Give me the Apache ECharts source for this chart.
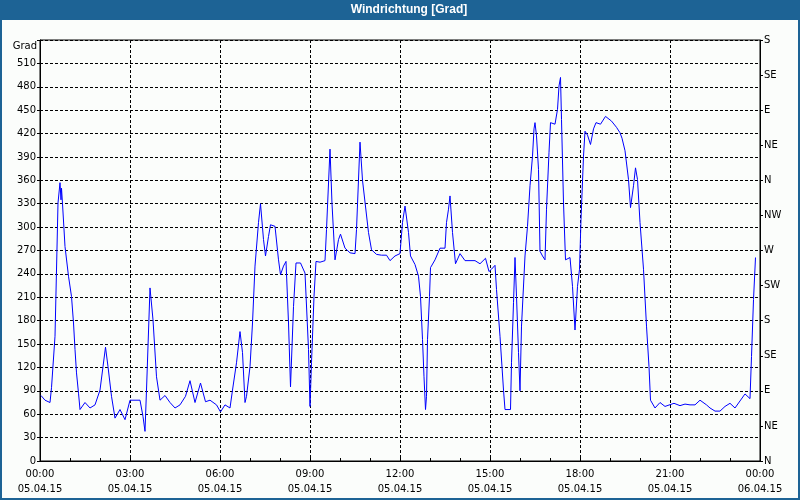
<!DOCTYPE html>
<html>
<head>
<meta charset="utf-8">
<script src="https://cdn.jsdelivr.net/npm/echarts@6/dist/echarts.min.js"></script>
<style>
html,body{margin:0;padding:0;background:#fbfdfb;}
#chart{width:800px;height:500px;}
</style>
</head>
<body>
<div id="chart"></div>
<script>
const chartTitle = 'Windrichtung [Grad]';
const yAxisName = 'Grad';
const timeLabels = ['00:00','03:00','06:00','09:00','12:00','15:00','18:00','21:00','00:00'];
const dateLabels = ['05.04.15','05.04.15','05.04.15','05.04.15','05.04.15','05.04.15','05.04.15','05.04.15','06.04.15'];
const compassLabels = ['N','NE','E','SE','S','SW','W','NW','N','NE','E','SE','S'];

// minutes since 05.04.15 00:00
const minutes = [2,10,20,23,30,33,36,40,42,43,45,50,57,63,67,70,73,77,80,90,100,110,120,126,131,136,143,150,160,170,180,200,206,210,213,220,226,233,240,250,260,270,280,291,300,310,321,331,340,353,361,370,380,385,393,400,405,410,413,420,425,430,437,441,447,451,457,461,470,477,481,487,492,497,501,507,512,521,530,537,540,543,548,552,560,570,573,580,584,590,597,601,610,620,630,633,640,645,657,663,673,683,693,700,710,720,725,730,737,741,750,757,761,765,768,771,773,775,779,781,790,800,810,813,817,820,825,831,840,850,870,880,891,898,903,910,913,920,927,930,941,943,947,950,953,957,960,963,970,975,980,985,988,990,993,997,1000,1005,1010,1013,1018,1021,1030,1035,1038,1041,1043,1047,1051,1060,1065,1070,1075,1079,1082,1087,1090,1095,1101,1107,1112,1121,1131,1143,1153,1160,1164,1170,1177,1181,1187,1191,1195,1200,1207,1213,1218,1221,1230,1240,1250,1268,1280,1290,1300,1310,1320,1333,1340,1350,1360,1370,1380,1390,1400,1410,1420,1423,1427,1431];
const degrees = [84,78,75,94,160,245,331,357,335,350,330,275,237,211,177,143,113,87,66,75,68,72,91,121,146,121,83,55,66,53,78,78,57,38,91,222,181,108,78,84,75,68,72,83,103,75,100,76,78,72,63,72,68,91,126,166,139,75,83,121,177,250,306,330,284,263,288,303,301,258,239,250,256,177,95,198,254,254,241,143,70,126,211,256,255,257,297,400,330,258,284,291,273,267,266,297,409,360,293,271,265,264,264,257,263,266,306,327,293,263,252,237,211,156,108,66,83,156,211,248,258,273,273,306,323,340,293,253,266,257,257,253,260,243,246,251,220,160,91,66,66,126,203,261,211,139,90,173,263,301,353,391,426,434,417,374,269,263,258,323,396,434,432,451,481,492,438,331,258,261,224,168,224,246,310,391,423,418,406,426,434,432,442,436,428,421,414,398,361,325,353,376,361,306,246,173,121,78,68,75,70,74,71,73,72,72,78,72,68,64,64,70,74,68,77,86,80,134,207,261];

const seriesData = minutes.map((m, i) => [m, degrees[i]]);
const font = 'DejaVu Sans';

const chart = echarts.init(document.getElementById('chart'), null, {renderer: 'canvas'});
chart.setOption({
  backgroundColor: '#fbfdfb',
  animation: false,
  grid: {left: 40, right: 40, top: 40, bottom: 39, show: true, borderColor: '#000', borderWidth: 1, backgroundColor: 'transparent'},
  xAxis: {
    type: 'value', min: 0, max: 1440, interval: 180,
    axisLine: {show: true, lineStyle: {color: '#000', width: 1}},
    axisTick: {show: true, inside: true, length: 3, lineStyle: {color: '#000'}},
    minorTick: {show: true, splitNumber: 3, length: 3, lineStyle: {color: '#000'}},
    splitLine: {show: true, lineStyle: {color: '#000', type: [3, 2], width: 1}},
    axisLabel: {
      color: '#000', fontFamily: font, fontSize: 10, lineHeight: 15, margin: 6,
      showMinLabel: true, showMaxLabel: true,
      formatter: v => { const i = Math.round(v / 180); return timeLabels[i] + '\n' + dateLabels[i]; }
    }
  },
  yAxis: [{
    type: 'value', min: 0, max: 540, interval: 30, position: 'left',
    axisLine: {show: true, lineStyle: {color: '#000', width: 1}},
    axisTick: {show: true, length: 3, lineStyle: {color: '#000'}},
    splitLine: {show: true, lineStyle: {color: '#000', type: [3, 2], width: 1}},
    axisLabel: {color: '#000', fontFamily: font, fontSize: 10, margin: 4,
      formatter: v => v >= 540 ? '' : String(v)}
  }, {
    type: 'value', min: 0, max: 540, interval: 45, position: 'right',
    axisLine: {show: true, lineStyle: {color: '#000', width: 1}},
    axisTick: {show: true, length: 3, lineStyle: {color: '#000'}},
    splitLine: {show: false},
    axisLabel: {color: '#000', fontFamily: font, fontSize: 10, margin: 4,
      formatter: v => compassLabels[Math.round(v / 45)]}
  }],
  series: [{
    type: 'line', data: seriesData, showSymbol: false, symbol: 'none',
    lineStyle: {color: '#0000ff', width: 1}, itemStyle: {color: '#0000ff'}
  }],
  graphic: [
    {type: 'rect', shape: {x: 0, y: 0, width: 800, height: 20}, style: {fill: '#1d6395'}, z: 10},
    {type: 'rect', shape: {x: 1, y: 1, width: 798, height: 498}, style: {fill: null, stroke: '#1d6395', lineWidth: 2}, z: 10},
    {type: 'text', x: 409, y: 10, z: 11, style: {text: chartTitle, fill: '#fff', font: 'bold 12px "Liberation Sans"', textAlign: 'center', textVerticalAlign: 'middle'}},
    {type: 'text', x: 37, y: 46, z: 11, style: {text: yAxisName, fill: '#000', font: '10px "DejaVu Sans"', textAlign: 'right', textVerticalAlign: 'middle'}}
  ]
});
</script>
</body>
</html>
